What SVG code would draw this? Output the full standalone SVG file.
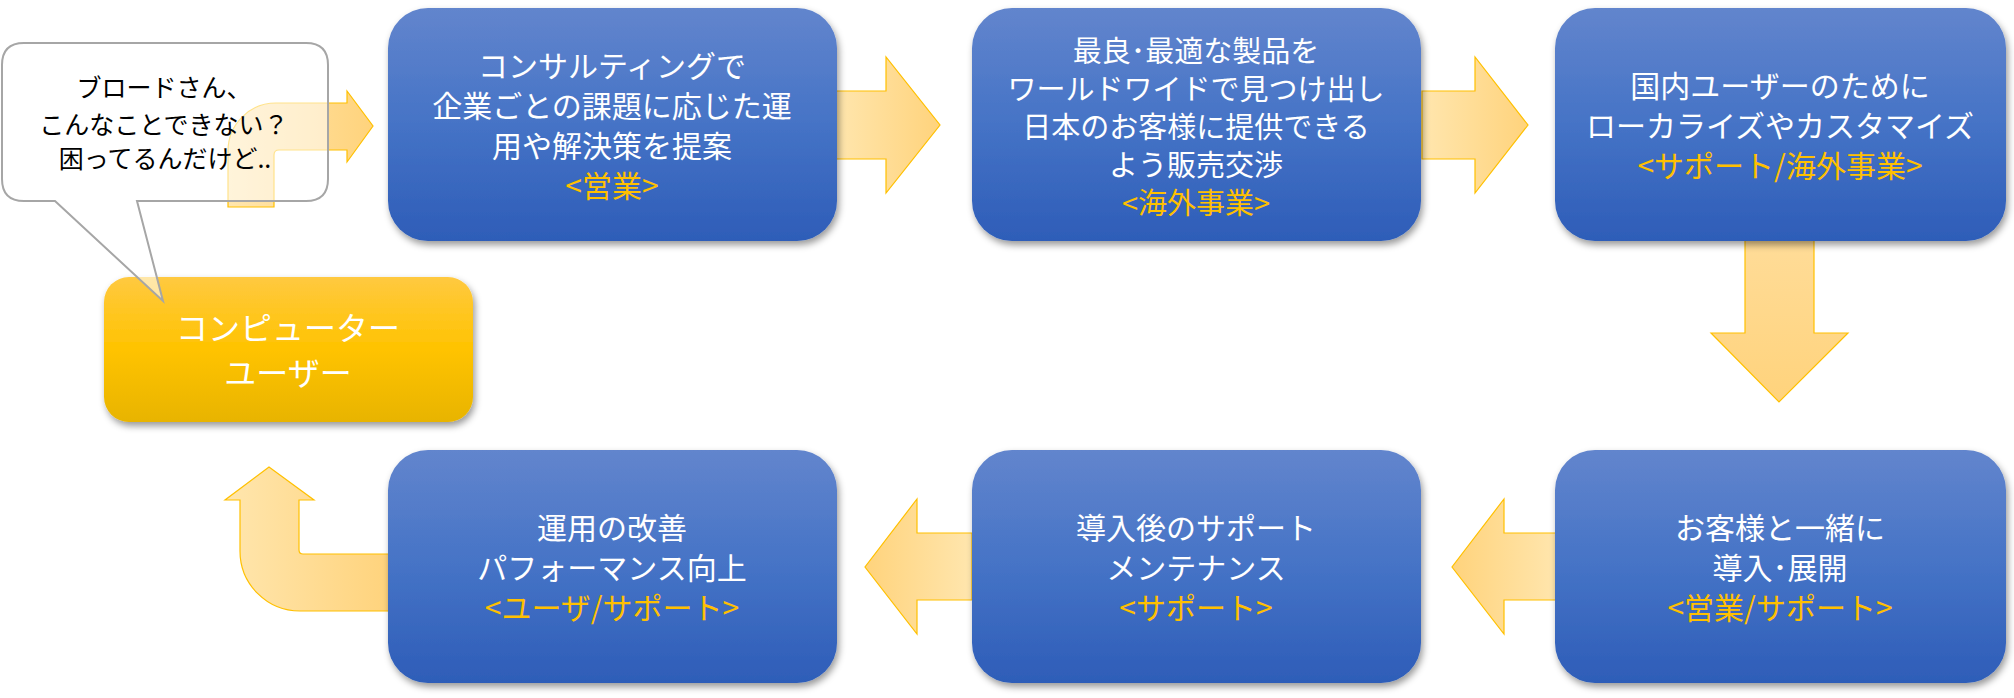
<svg xmlns="http://www.w3.org/2000/svg" width="2014" height="698" viewBox="0 0 2014 698">
<defs>
<linearGradient id="gBlue" x1="0" y1="0" x2="0" y2="1">
<stop offset="0" stop-color="#6285CD"/>
<stop offset="0.5" stop-color="#4573C6"/>
<stop offset="1" stop-color="#2E5DB8"/>
</linearGradient>
<linearGradient id="gYel" x1="0" y1="0" x2="0" y2="1">
<stop offset="0" stop-color="#FFC940"/>
<stop offset="0.5" stop-color="#FFC300"/>
<stop offset="1" stop-color="#E8B400"/>
</linearGradient>
<linearGradient id="gArrR" x1="0" y1="0" x2="1" y2="0">
<stop offset="0" stop-color="#FFE6AE"/>
<stop offset="1" stop-color="#FFD37C"/>
</linearGradient>
<linearGradient id="gArrL" x1="1" y1="0" x2="0" y2="0">
<stop offset="0" stop-color="#FFE6AE"/>
<stop offset="1" stop-color="#FFD37C"/>
</linearGradient>
<linearGradient id="gArrD" x1="0" y1="0" x2="0" y2="1">
<stop offset="0" stop-color="#FFDC98"/>
<stop offset="1" stop-color="#FFD37C"/>
</linearGradient>
<filter id="sh" x="-10%" y="-10%" width="125%" height="130%">
<feDropShadow dx="2" dy="4" stdDeviation="3.5" flood-color="#000" flood-opacity="0.4"/>
</filter>
</defs>
<style>
.box{fill:url(#gBlue);filter:url(#sh);}
.t{font-family:"Noto Sans CJK JP","Noto Sans CJK SC",sans-serif;font-size:30px;fill:#FFFFFF;text-anchor:middle;}
.t2{font-size:29px;}
.s{fill:#FFC000;}
.arr{stroke:#FFC000;stroke-width:1.2;}
.bt{font-family:"Noto Sans CJK JP","Noto Sans CJK SC",sans-serif;font-size:25px;fill:#000;text-anchor:middle;}
</style>
<rect width="2014" height="698" fill="#FFFFFF"/>

<g id="connectors">
<path class="arr" fill="url(#gArrR)" d="M228,207 L228,151 A48,48 0 0 1 276,103 L347,103 L347,91 L373,126 L347,162 L347,150 L279,150 Q274,150 274,155 L274,207 Z"/>
<path class="arr" fill="url(#gArrR)" d="M835,91 L886,91 L886,57 L940,125 L886,193 L886,159 L835,159 Z"/>
<path class="arr" fill="url(#gArrR)" d="M1422,91 L1475,91 L1475,57 L1528,125 L1475,193 L1475,159 L1422,159 Z"/>
<path class="arr" fill="url(#gArrD)" d="M1745,239 L1814,239 L1814,333 L1848,333 L1779,402 L1711,333 L1745,333 Z"/>
<path class="arr" fill="url(#gArrL)" d="M1558,533 L1504,533 L1504,499 L1452,567 L1504,634 L1504,600 L1558,600 Z"/>
<path class="arr" fill="url(#gArrL)" d="M972,533 L917,533 L917,499 L865,567 L917,634 L917,600 L972,600 Z"/>
<path class="arr" fill="url(#gArrR)" d="M390,554 L303,554 Q299,554 299,550 L299,500 L314,500 L269,467 L225,500 L240,500 L240,551 A60,60 0 0 0 300,611 L390,611 Z"/>
</g>

<g id="node-user">
<rect x="104" y="277" width="369" height="145" rx="25" fill="url(#gYel)" filter="url(#sh)"/>
<text class="t" x="288" y="340" style="font-size:32px">コンピューター</text>
<text class="t" x="288" y="385" style="font-size:32px">ユーザー</text>
</g>

<g id="node-bubble">
<path d="M24,43 L306,43 Q328,43 328,65 L328,179 Q328,201 306,201 L137,201 L163,301 L55,201 L24,201 Q2,201 2,179 L2,65 Q2,43 24,43 Z" fill="#FFFFFF" fill-opacity="0.55" stroke="#A6A6A6" stroke-width="2"/>
<text class="bt" x="164" y="97">ブロードさん、</text>
<text class="bt" x="164" y="134">こんなことできない？</text>
<text class="bt" x="165" y="168">困ってるんだけど..</text>
</g>

<g id="node-consulting">
<rect class="box" x="388" y="8" width="449" height="233" rx="40"/>
<text class="t" x="612" y="77">コンサルティングで</text>
<text class="t" x="612" y="117">企業ごとの課題に応じた運</text>
<text class="t" x="612" y="157">用や解決策を提案</text>
<text class="t s" x="612" y="197">&lt;営業&gt;</text>
</g>

<g id="node-overseas">
<rect class="box" x="972" y="8" width="449" height="233" rx="40"/>
<text class="t t2" x="1196" y="62">最良･最適な製品を</text>
<text class="t t2" x="1196" y="100">ワールドワイドで見つけ出し</text>
<text class="t t2" x="1196" y="138">日本のお客様に提供できる</text>
<text class="t t2" x="1196" y="176">よう販売交渉</text>
<text class="t t2 s" x="1196" y="214">&lt;海外事業&gt;</text>
</g>

<g id="node-localize">
<rect class="box" x="1555" y="8" width="451" height="233" rx="40"/>
<text class="t" x="1780" y="97">国内ユーザーのために</text>
<text class="t" x="1780" y="137">ローカライズやカスタマイズ</text>
<text class="t s" x="1780" y="177">&lt;サポート/海外事業&gt;</text>
</g>

<g id="node-deploy">
<rect class="box" x="1555" y="450" width="451" height="233" rx="40"/>
<text class="t" x="1780" y="539">お客様と一緒に</text>
<text class="t" x="1780" y="579">導入･展開</text>
<text class="t s" x="1780" y="619">&lt;営業/サポート&gt;</text>
</g>

<g id="node-maintenance">
<rect class="box" x="972" y="450" width="449" height="233" rx="40"/>
<text class="t" x="1196" y="539">導入後のサポート</text>
<text class="t" x="1196" y="579">メンテナンス</text>
<text class="t s" x="1196" y="619">&lt;サポート&gt;</text>
</g>

<g id="node-improve">
<rect class="box" x="388" y="450" width="449" height="233" rx="40"/>
<text class="t" x="612" y="539">運用の改善</text>
<text class="t" x="612" y="579">パフォーマンス向上</text>
<text class="t s" x="612" y="619">&lt;ユーザ/サポート&gt;</text>
</g>
</svg>
